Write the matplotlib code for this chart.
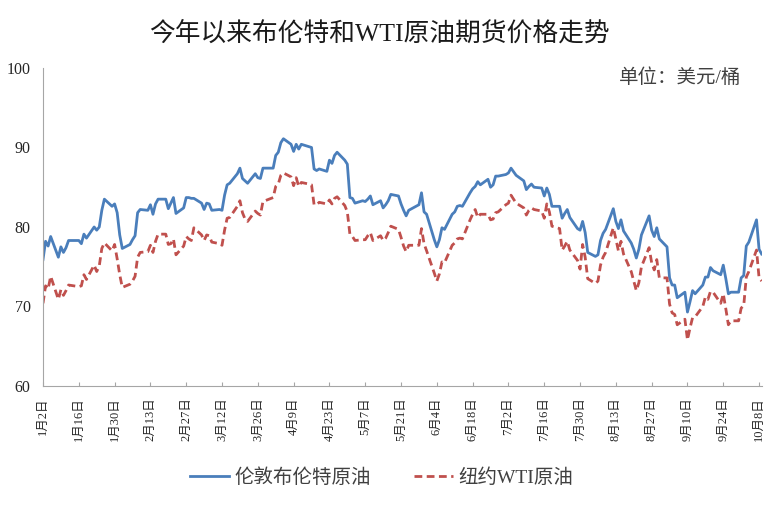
import matplotlib.pyplot as plt
import matplotlib.dates as mdates
import pandas as pd

plt.rcParams['font.family'] = ['Liberation Serif', 'Noto Sans CJK SC']

# trading days (2024) and settlement prices, USD/bbl
dates = ["01-02", "01-03", "01-04", "01-05", "01-08", "01-09", "01-10", "01-11", "01-12", "01-16",
         "01-17", "01-18", "01-19", "01-22", "01-23", "01-24", "01-25", "01-26", "01-29", "01-30",
         "01-31", "02-01", "02-02", "02-05", "02-06", "02-07", "02-08", "02-09", "02-12", "02-13",
         "02-14", "02-15", "02-16", "02-19", "02-20", "02-21", "02-22", "02-23", "02-26", "02-27",
         "02-28", "02-29", "03-01", "03-04", "03-05", "03-06", "03-07", "03-08", "03-11", "03-12",
         "03-13", "03-14", "03-15", "03-18", "03-19", "03-20", "03-21", "03-22", "03-25", "03-26",
         "03-27", "03-28", "04-01", "04-02", "04-03", "04-04", "04-05", "04-08", "04-09", "04-10",
         "04-11", "04-12", "04-15", "04-16", "04-17", "04-18", "04-19", "04-22", "04-23", "04-24",
         "04-25", "04-26", "04-29", "04-30", "05-01", "05-02", "05-03", "05-06", "05-07", "05-08",
         "05-09", "05-10", "05-13", "05-14", "05-15", "05-16", "05-17", "05-20", "05-21", "05-22",
         "05-23", "05-24", "05-28", "05-29", "05-30", "05-31", "06-03", "06-04", "06-05", "06-06",
         "06-07", "06-10", "06-11", "06-12", "06-13", "06-14", "06-17", "06-18", "06-19", "06-20",
         "06-21", "06-24", "06-25", "06-26", "06-27", "06-28", "07-01", "07-02", "07-03", "07-05",
         "07-08", "07-09", "07-10", "07-11", "07-12", "07-15", "07-16", "07-17", "07-18", "07-19",
         "07-22", "07-23", "07-24", "07-25", "07-26", "07-29", "07-30", "07-31", "08-01", "08-02",
         "08-05", "08-06", "08-07", "08-08", "08-09", "08-12", "08-13", "08-14", "08-15", "08-16",
         "08-19", "08-20", "08-21", "08-22", "08-23", "08-26", "08-27", "08-28", "08-29", "08-30",
         "09-02", "09-03", "09-04", "09-05", "09-06", "09-09", "09-10", "09-11", "09-12", "09-13",
         "09-16", "09-17", "09-18", "09-19", "09-20", "09-23", "09-24", "09-25", "09-26", "09-27",
         "09-30", "10-01", "10-02", "10-03", "10-04", "10-07", "10-08", "10-09"]

brent = [75.9, 78.2, 77.6, 78.8, 76.2, 77.5, 76.8, 77.4, 78.3, 78.3,
         77.9, 79.1, 78.6, 80.0, 79.6, 80.0, 82.1, 83.5, 82.6, 82.9,
         81.8, 79.0, 77.3, 77.8, 78.4, 78.9, 81.8, 82.2, 82.1, 82.8,
         81.6, 82.9, 83.5, 83.5, 82.3, 83.0, 83.7, 81.7, 82.4, 83.7,
         83.7, 83.6, 83.6, 83.0, 82.2, 83.0, 82.9, 82.1, 82.2, 82.1,
         84.0, 85.3, 85.5, 86.7, 87.4, 86.1, 85.8, 85.5, 86.7, 86.2,
         86.1, 87.4, 87.4, 89.0, 89.4, 90.6, 91.1, 90.4, 89.5, 90.4,
         89.8, 90.4, 90.1, 90.0, 87.3, 87.1, 87.3, 87.0, 88.4, 88.0,
         89.0, 89.4, 88.4, 87.9, 83.7, 83.6, 83.0, 83.3, 83.2, 83.5,
         83.9, 82.8, 83.3, 82.4, 82.8, 83.3, 84.1, 83.9, 82.9, 82.1,
         81.4, 82.1, 82.8, 84.3, 81.9, 81.6, 78.4, 77.5, 78.4, 79.9,
         79.7, 81.6, 81.9, 82.6, 82.7, 82.6, 84.3, 84.8, 85.1, 85.7,
         85.3, 86.0, 85.0, 85.3, 86.4, 86.4, 86.6, 86.8, 87.4, 86.5,
         85.8, 84.7, 85.1, 85.4, 85.0, 84.9, 83.9, 84.9, 84.1, 82.6,
         82.6, 81.1, 81.7, 82.2, 81.2, 79.8, 79.6, 80.7, 79.3, 76.8,
         76.3, 76.5, 78.3, 79.2, 79.7, 82.3, 80.7, 79.8, 80.9, 79.5,
         78.0, 77.2, 76.1, 77.2, 79.0, 81.4, 79.6, 78.8, 79.9, 78.5,
         77.5, 73.6, 72.7, 72.7, 71.1, 71.8, 69.3, 70.6, 72.0, 71.6,
         72.7, 73.7, 73.7, 74.9, 74.5, 74.0, 75.2, 73.5, 71.6, 71.8,
         71.8, 73.6, 73.9, 77.6, 78.1, 80.9, 77.2, 76.6]

wti = [70.4, 72.6, 72.2, 73.8, 70.9, 72.1, 71.4, 72.0, 72.7, 72.5,
       72.6, 74.0, 73.4, 75.2, 74.4, 75.1, 77.3, 78.0, 77.0, 77.8,
       76.0, 74.0, 72.4, 72.8, 73.2, 73.8, 76.2, 76.8, 76.9, 77.7,
       76.8, 78.2, 79.1, 79.1, 77.8, 77.9, 78.5, 76.5, 77.6, 78.8,
       78.5, 78.3, 79.9, 79.0, 78.3, 79.0, 78.9, 78.1, 77.9, 77.7,
       79.6, 81.1, 81.2, 82.6, 83.3, 81.8, 81.0, 80.7, 82.0, 81.7,
       81.5, 83.2, 83.7, 85.1, 85.4, 86.5, 86.8, 86.3, 85.2, 86.2,
       85.1, 85.6, 85.4, 85.3, 82.8, 82.8, 83.1, 82.9, 83.4, 82.9,
       83.6, 83.8, 82.7, 81.9, 79.1, 78.8, 78.3, 78.4, 78.4, 78.9,
       79.3, 78.3, 78.9, 78.3, 78.6, 79.3, 80.1, 79.7, 78.7, 77.6,
       76.9, 77.7, 77.7, 79.8, 77.9, 77.0, 74.2, 73.2, 74.1, 75.6,
       75.5, 77.7, 78.0, 78.5, 78.6, 78.5, 80.9, 81.6, 82.2, 81.2,
       81.6, 81.6, 80.9, 81.0, 81.8, 81.9, 82.8, 83.0, 84.0, 83.0,
       82.4, 81.5, 82.1, 82.4, 82.2, 82.0, 81.1, 82.9, 81.9, 80.1,
       79.8, 77.1, 77.6, 78.2, 77.1, 75.8, 74.7, 77.8, 76.2, 73.5,
       72.9, 73.2, 75.2, 76.2, 76.8, 79.9, 78.5, 77.0, 78.2, 76.6,
       74.4, 73.2, 72.0, 73.0, 75.0, 77.4, 75.5, 74.6, 75.9, 73.6,
       73.6, 70.3, 69.2, 69.0, 67.7, 68.4, 65.8, 67.3, 68.6, 68.7,
       70.0, 71.2, 70.9, 71.9, 71.8, 70.4, 71.6, 69.7, 67.7, 68.2,
       68.2, 69.8, 70.1, 73.7, 74.4, 77.1, 73.6, 73.2]

tick_labels = ["1月2日", "1月16日", "1月30日", "2月13日", "2月27日", "3月12日", "3月26日",
               "4月9日", "4月23日", "5月7日", "5月21日", "6月4日", "6月18日", "7月2日",
               "7月16日", "7月30日", "8月13日", "8月27日", "9月10日", "9月24日", "10月8日"]

x = pd.to_datetime(["2024-" + d for d in dates])
ticks = pd.date_range("2024-01-02", "2024-10-08", freq="14D")

fig = plt.figure(figsize=(7.79, 5.11), dpi=100)
ax = fig.add_axes([0.0552, 0.2446, 0.9225, 0.6224])

ax.plot(x, brent, color='#4a7ebb', lw=2.0, label='伦敦布伦特原油')
ax.plot(x, wti, color='#c0504d', lw=2.0, linestyle=(0, (2.8, 1.6)), label='纽约WTI原油')

ax.set_ylim(60, 100)
ax.set_yticks([60, 70, 80, 90, 100])
ax.set_xlim(pd.Timestamp("2024-01-02"), pd.Timestamp("2024-10-09"))
ax.set_xticks(ticks)
ax.set_xticklabels(tick_labels, rotation=90, fontsize=9)

for s in ['top', 'right']:
    ax.spines[s].set_visible(False)
for s in ['left', 'bottom']:
    ax.spines[s].set_color('#a6a6a6')
ax.tick_params(axis='y', length=0, pad=9, labelsize=11.5, labelcolor='#262626')
ax.tick_params(axis='x', direction='in', length=3, color='#a6a6a6', pad=8, labelcolor='#262626')

ax.text(0.972, 0.97, '单位：美元/桶', transform=ax.transAxes, ha='right', va='center',
        fontsize=14, color='#404040')

fig.text(0.487, 0.935, '今年以来布伦特和WTI原油期货价格走势', ha='center', va='center',
         fontsize=18.5, color='#1a1a1a')

fig.legend(loc='center', bbox_to_anchor=(0.49, 0.065), ncol=2, frameon=False,
           fontsize=14, handlelength=2.0, handletextpad=0.3, columnspacing=2.2,
           labelcolor='#404040')

fig.savefig('out.png', dpi=100)
